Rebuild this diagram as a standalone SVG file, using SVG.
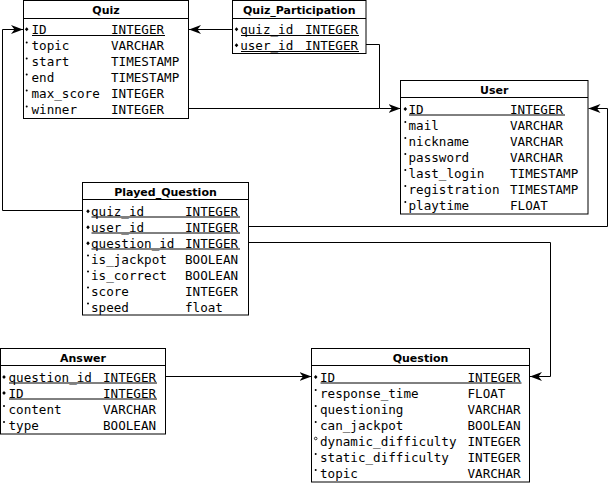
<svg xmlns="http://www.w3.org/2000/svg" width="609" height="483" viewBox="0 0 609 483">
<style>
.box{fill:#fff;stroke:#000;stroke-width:1}
.sep{stroke:#000;stroke-width:1}
.ul{stroke:#000;stroke-width:1}
.t{font-family:"DejaVu Sans",sans-serif;font-weight:bold;font-size:11px;text-anchor:middle;fill:#000}
.r{font-family:"DejaVu Sans Mono",monospace;font-size:12.6px;fill:#000}
.k{fill:#000}
.d{fill:#000}
.n{fill:none;stroke:#000;stroke-width:0.8}
.c{fill:none;stroke:#000;stroke-width:1}
</style>
<defs>
<marker id="arr" markerWidth="12" markerHeight="9" refX="12" refY="4.5" orient="auto" markerUnits="userSpaceOnUse">
<path d="M0,0 L12,4.5 L0,9 L3.5,4.5 z" fill="#000"/>
</marker>
</defs>
<rect width="609" height="483" fill="#fff"/>
<g id="connectors">
<polyline class="c" points="232.5,29.5 189,29.5" marker-end="url(#arr)"/>
<polyline class="c" points="366,44.5 379.5,44.5 379.5,108.5 400.5,108.5" marker-end="url(#arr)"/>
<polyline class="c" points="188,108.5 379.5,108.5"/>
<polyline class="c" points="82.5,210.5 2.5,210.5 2.5,29.5 23,29.5" marker-end="url(#arr)"/>
<polyline class="c" points="248.5,226.5 607.5,226.5 607.5,108.5 588.5,108.5" marker-end="url(#arr)"/>
<polyline class="c" points="248.5,242.5 550.5,242.5 550.5,376.5 530,376.5" marker-end="url(#arr)"/>
<polyline class="c" points="165.5,376.5 311.5,376.5" marker-end="url(#arr)"/>
</g>
<g id="Quiz">
<rect class="box" x="23.5" y="0.5" width="165" height="118"/>
<line class="sep" x1="23.5" y1="18.5" x2="188.5" y2="18.5"/>
<text class="t" x="106" y="13.5">Quiz</text>
<path class="k" d="M26.7,27.3 L28.5,29.3 L26.7,31.3 L24.9,29.3 z"/>
<text class="r" x="31.5" y="34">ID</text><text class="r" x="111" y="34">INTEGER</text>
<line class="ul" x1="32" y1="35.5" x2="165" y2="35.5"/>
<circle class="d" cx="26.7" cy="42.5" r="1"/>
<text class="r" x="31.5" y="50">topic</text><text class="r" x="111" y="50">VARCHAR</text>
<circle class="d" cx="26.7" cy="58.5" r="1"/>
<text class="r" x="31.5" y="66">start</text><text class="r" x="111" y="66">TIMESTAMP</text>
<circle class="d" cx="26.7" cy="74.5" r="1"/>
<text class="r" x="31.5" y="82">end</text><text class="r" x="111" y="82">TIMESTAMP</text>
<circle class="d" cx="26.7" cy="90.5" r="1"/>
<text class="r" x="31.5" y="98">max_score</text><text class="r" x="111" y="98">INTEGER</text>
<circle class="d" cx="26.7" cy="106.5" r="1"/>
<text class="r" x="31.5" y="114">winner</text><text class="r" x="111" y="114">INTEGER</text>
</g>
<g id="Quiz_Participation">
<rect class="box" x="232.5" y="0.5" width="133.5" height="53"/>
<line class="sep" x1="232.5" y1="18.5" x2="366" y2="18.5"/>
<text class="t" x="299.25" y="13.5">Quiz_Participation</text>
<path class="k" d="M236.5,27.3 L238.3,29.3 L236.5,31.3 L234.7,29.3 z"/>
<text class="r" x="240.2" y="34">quiz_id</text><text class="r" x="305" y="34">INTEGER</text>
<line class="ul" x1="241" y1="35.5" x2="359" y2="35.5"/>
<path class="k" d="M236.5,43.3 L238.3,45.3 L236.5,47.3 L234.7,45.3 z"/>
<text class="r" x="240.2" y="50">user_id</text><text class="r" x="305" y="50">INTEGER</text>
<line class="ul" x1="241" y1="51.5" x2="359" y2="51.5"/>
</g>
<g id="User">
<rect class="box" x="400.5" y="80.5" width="187.5" height="133.5"/>
<line class="sep" x1="400.5" y1="97.5" x2="588" y2="97.5"/>
<text class="t" x="494.25" y="93.5">User</text>
<path class="k" d="M405.3,107 L407.1,109 L405.3,111 L403.5,109 z"/>
<text class="r" x="408.5" y="113.5">ID</text><text class="r" x="510" y="113.5">INTEGER</text>
<line class="ul" x1="409" y1="115" x2="565" y2="115"/>
<circle class="d" cx="405.3" cy="122" r="1"/>
<text class="r" x="408.5" y="129.5">mail</text><text class="r" x="510" y="129.5">VARCHAR</text>
<circle class="d" cx="405.3" cy="138" r="1"/>
<text class="r" x="408.5" y="145.5">nickname</text><text class="r" x="510" y="145.5">VARCHAR</text>
<circle class="d" cx="405.3" cy="154" r="1"/>
<text class="r" x="408.5" y="161.5">password</text><text class="r" x="510" y="161.5">VARCHAR</text>
<circle class="d" cx="405.3" cy="170" r="1"/>
<text class="r" x="408.5" y="177.5">last_login</text><text class="r" x="510" y="177.5">TIMESTAMP</text>
<circle class="d" cx="405.3" cy="186" r="1"/>
<text class="r" x="408.5" y="193.5">registration</text><text class="r" x="510" y="193.5">TIMESTAMP</text>
<circle class="d" cx="405.3" cy="202" r="1"/>
<text class="r" x="408.5" y="209.5">playtime</text><text class="r" x="510" y="209.5">FLOAT</text>
</g>
<g id="Played_Question">
<rect class="box" x="82.5" y="182.5" width="166" height="132.5"/>
<line class="sep" x1="82.5" y1="199.5" x2="248.5" y2="199.5"/>
<text class="t" x="165.5" y="195.5">Played_Question</text>
<path class="k" d="M88,209.3 L89.8,211.3 L88,213.3 L86.2,211.3 z"/>
<text class="r" x="91" y="215.5">quiz_id</text><text class="r" x="185" y="215.5">INTEGER</text>
<line class="ul" x1="91.5" y1="217" x2="240" y2="217"/>
<path class="k" d="M88,225.3 L89.8,227.3 L88,229.3 L86.2,227.3 z"/>
<text class="r" x="91" y="231.5">user_id</text><text class="r" x="185" y="231.5">INTEGER</text>
<line class="ul" x1="91.5" y1="233" x2="240" y2="233"/>
<path class="k" d="M88,241.3 L89.8,243.3 L88,245.3 L86.2,243.3 z"/>
<text class="r" x="91" y="247.5">question_id</text><text class="r" x="185" y="247.5">INTEGER</text>
<line class="ul" x1="91.5" y1="249" x2="240" y2="249"/>
<circle class="d" cx="88" cy="255.5" r="1"/>
<text class="r" x="91" y="263.5">is_jackpot</text><text class="r" x="185" y="263.5">BOOLEAN</text>
<circle class="d" cx="88" cy="271.5" r="1"/>
<text class="r" x="91" y="279.5">is_correct</text><text class="r" x="185" y="279.5">BOOLEAN</text>
<circle class="d" cx="88" cy="287.5" r="1"/>
<text class="r" x="91" y="295.5">score</text><text class="r" x="185" y="295.5">INTEGER</text>
<circle class="d" cx="88" cy="303.5" r="1"/>
<text class="r" x="91" y="311.5">speed</text><text class="r" x="185" y="311.5">float</text>
</g>
<g id="Answer">
<rect class="box" x="0.5" y="348.5" width="165" height="85.5"/>
<line class="sep" x1="0.5" y1="365.5" x2="165.5" y2="365.5"/>
<text class="t" x="83" y="361.5">Answer</text>
<path class="k" d="M4,375 L5.8,377 L4,379 L2.2,377 z"/>
<text class="r" x="8.5" y="381.5">question_id</text><text class="r" x="103" y="381.5">INTEGER</text>
<line class="ul" x1="9" y1="383" x2="157" y2="383"/>
<path class="k" d="M4,391 L5.8,393 L4,395 L2.2,393 z"/>
<text class="r" x="8.5" y="397.5">ID</text><text class="r" x="103" y="397.5">INTEGER</text>
<line class="ul" x1="9" y1="399" x2="157" y2="399"/>
<circle class="d" cx="4" cy="406" r="1"/>
<text class="r" x="8.5" y="413.5">content</text><text class="r" x="103" y="413.5">VARCHAR</text>
<circle class="d" cx="4" cy="422" r="1"/>
<text class="r" x="8.5" y="429.5">type</text><text class="r" x="103" y="429.5">BOOLEAN</text>
</g>
<g id="Question">
<rect class="box" x="311.5" y="348.5" width="218" height="133.5"/>
<line class="sep" x1="311.5" y1="365.5" x2="529.5" y2="365.5"/>
<text class="t" x="420.5" y="361.5">Question</text>
<path class="k" d="M315.7,375 L317.5,377 L315.7,379 L313.9,377 z"/>
<text class="r" x="320" y="381.5">ID</text><text class="r" x="467.5" y="381.5">INTEGER</text>
<line class="ul" x1="320.5" y1="383" x2="521.5" y2="383"/>
<circle class="d" cx="315.7" cy="390" r="1"/>
<text class="r" x="320" y="397.5">response_time</text><text class="r" x="467.5" y="397.5">FLOAT</text>
<circle class="d" cx="315.7" cy="406" r="1"/>
<text class="r" x="320" y="413.5">questioning</text><text class="r" x="467.5" y="413.5">VARCHAR</text>
<circle class="d" cx="315.7" cy="422" r="1"/>
<text class="r" x="320" y="429.5">can_jackpot</text><text class="r" x="467.5" y="429.5">BOOLEAN</text>
<circle class="n" cx="315.7" cy="438.5" r="1.3"/>
<text class="r" x="320" y="445.5">dynamic_difficulty</text><text class="r" x="467.5" y="445.5">INTEGER</text>
<circle class="d" cx="315.7" cy="454" r="1"/>
<text class="r" x="320" y="461.5">static_difficulty</text><text class="r" x="467.5" y="461.5">INTEGER</text>
<circle class="d" cx="315.7" cy="470" r="1"/>
<text class="r" x="320" y="477.5">topic</text><text class="r" x="467.5" y="477.5">VARCHAR</text>
</g>
</svg>
